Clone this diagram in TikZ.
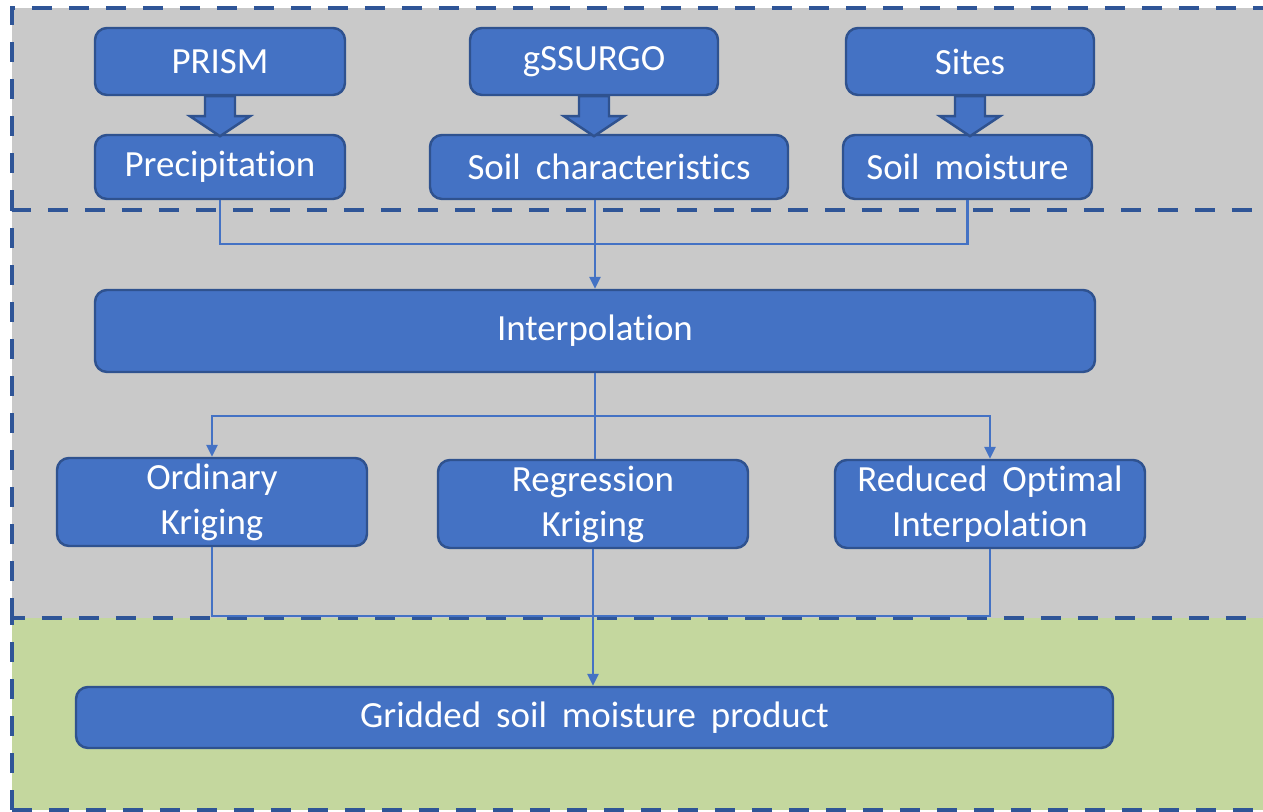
\documentclass[tikz,border=0pt]{standalone}
\usepackage{fontspec}
\setmainfont{Carlito}[WordSpace=1.8, RawFeature=-liga]
\usetikzlibrary{positioning, arrows.meta, calc}

\definecolor{boxblue}{HTML}{4472C4}
\definecolor{boxedge}{HTML}{2F528F}
\definecolor{paneledge}{HTML}{2F5597}
\definecolor{panelgray}{HTML}{C9C9C9}
\definecolor{panelgreen}{HTML}{C4D79E}

\newcommand{\fatarrow}[1]{%
  \draw[fatarr] ($(#1.south)+(-0.15,0)$) -- ++(0,-0.2) -- ++(-0.15,0)
        -- ($(#1.south)+(0,-0.4)$) -- ($(#1.south)+(0.3,-0.2)$) -- ++(-0.15,0)
        -- ($(#1.south)+(0.15,0)$) -- cycle;}

\begin{document}
\begin{tikzpicture}[
    every node/.style={font=\fontsize{10.5}{12.8}\selectfont},
    box/.style={draw=boxedge, line width=0.7pt, fill=boxblue, rounded corners=1.2mm,
        text=white, align=center, inner sep=0pt},
    fatarr/.style={draw=boxedge, line width=0.7pt, fill=boxblue},
    link/.style={draw=boxblue, line width=0.7pt},
    panel/.style={draw=paneledge, line width=1.2pt, dash pattern=on 2mm off 1.7mm},
    >={Triangle[width=1.1mm,length=1.2mm]}
]
    \useasboundingbox (0,0) rectangle (12.63,-8.12);
    % panels
    \fill[panelgray] (0.12,-0.08) rectangle (13,-6.18);
    \fill[panelgreen] (0.12,-6.18) rectangle (13,-8.10);
    \draw[panel] (0.12,-2.10) -- (0.12,-0.08) -- (13,-0.08);
    \draw[panel] (0.12,-6.18) -- (0.12,-2.10) -- (13,-2.10);
    \draw[panel] (0.12,-8.10) -- (0.12,-6.18) -- (13,-6.18);
    \draw[panel] (0.12,-8.10) -- (13,-8.10);

    % sources
    \node[box, minimum width=2.5cm, minimum height=0.67cm] (prism) at (2.20,-0.615) {PRISM};
    \node[box, minimum width=2.48cm, minimum height=0.67cm] (gssurgo) at (5.94,-0.615) {gSSURGO};
    \node[box, minimum width=2.48cm, minimum height=0.67cm] (sites) at (9.70,-0.615) {Sites};
    \node[box, minimum width=2.5cm, minimum height=0.64cm] (precip) at (2.20,-1.67) {Precipitation};
    \node[box, minimum width=3.58cm, minimum height=0.64cm] (soilch) at (6.09,-1.67) {Soil characteristics};
    \node[box, minimum width=2.49cm, minimum height=0.64cm] (soilm) at (9.675,-1.67) {Soil moisture};
    \fatarrow{prism}
    \fatarrow{gssurgo}
    \fatarrow{sites}

    % interpolation
    \node[box, minimum width=10cm, minimum height=0.82cm] (interp) at (5.95,-3.31) {Interpolation};
    \node[box, minimum width=3.1cm, minimum height=0.88cm] (ok) at (2.12,-5.02) {Ordinary\\Kriging};
    \node[box, minimum width=3.1cm, minimum height=0.88cm] (rk) at (5.93,-5.04) {Regression\\Kriging};
    \node[box, minimum width=3.1cm, minimum height=0.88cm] (roi) at (9.90,-5.04) {Reduced Optimal\\Interpolation};

    % product
    \node[box, minimum width=10.37cm, minimum height=0.61cm] (grid) at (5.945,-7.175) {Gridded soil moisture product};

    % connectors
    \draw[link] (precip.south) -- ++(0,-0.44) coordinate (mrg) -| (soilm.south);
    \draw[link, ->] (interp.north |- soilch.south) -- (interp.north);
    \draw[link] (interp.south) -- ++(0,-0.43) coordinate (split);
    \draw[link, ->] (split) -| (ok.north);
    \draw[link, ->] (split) -| (roi.north);
    \draw[link] (split) -- (split |- rk.north);
    \draw[link] (ok.south) -- ++(0,-0.69) -| (roi.south);
    \draw[link, ->] (rk.south) -- (rk.south |- grid.north);
\end{tikzpicture}
\end{document}
